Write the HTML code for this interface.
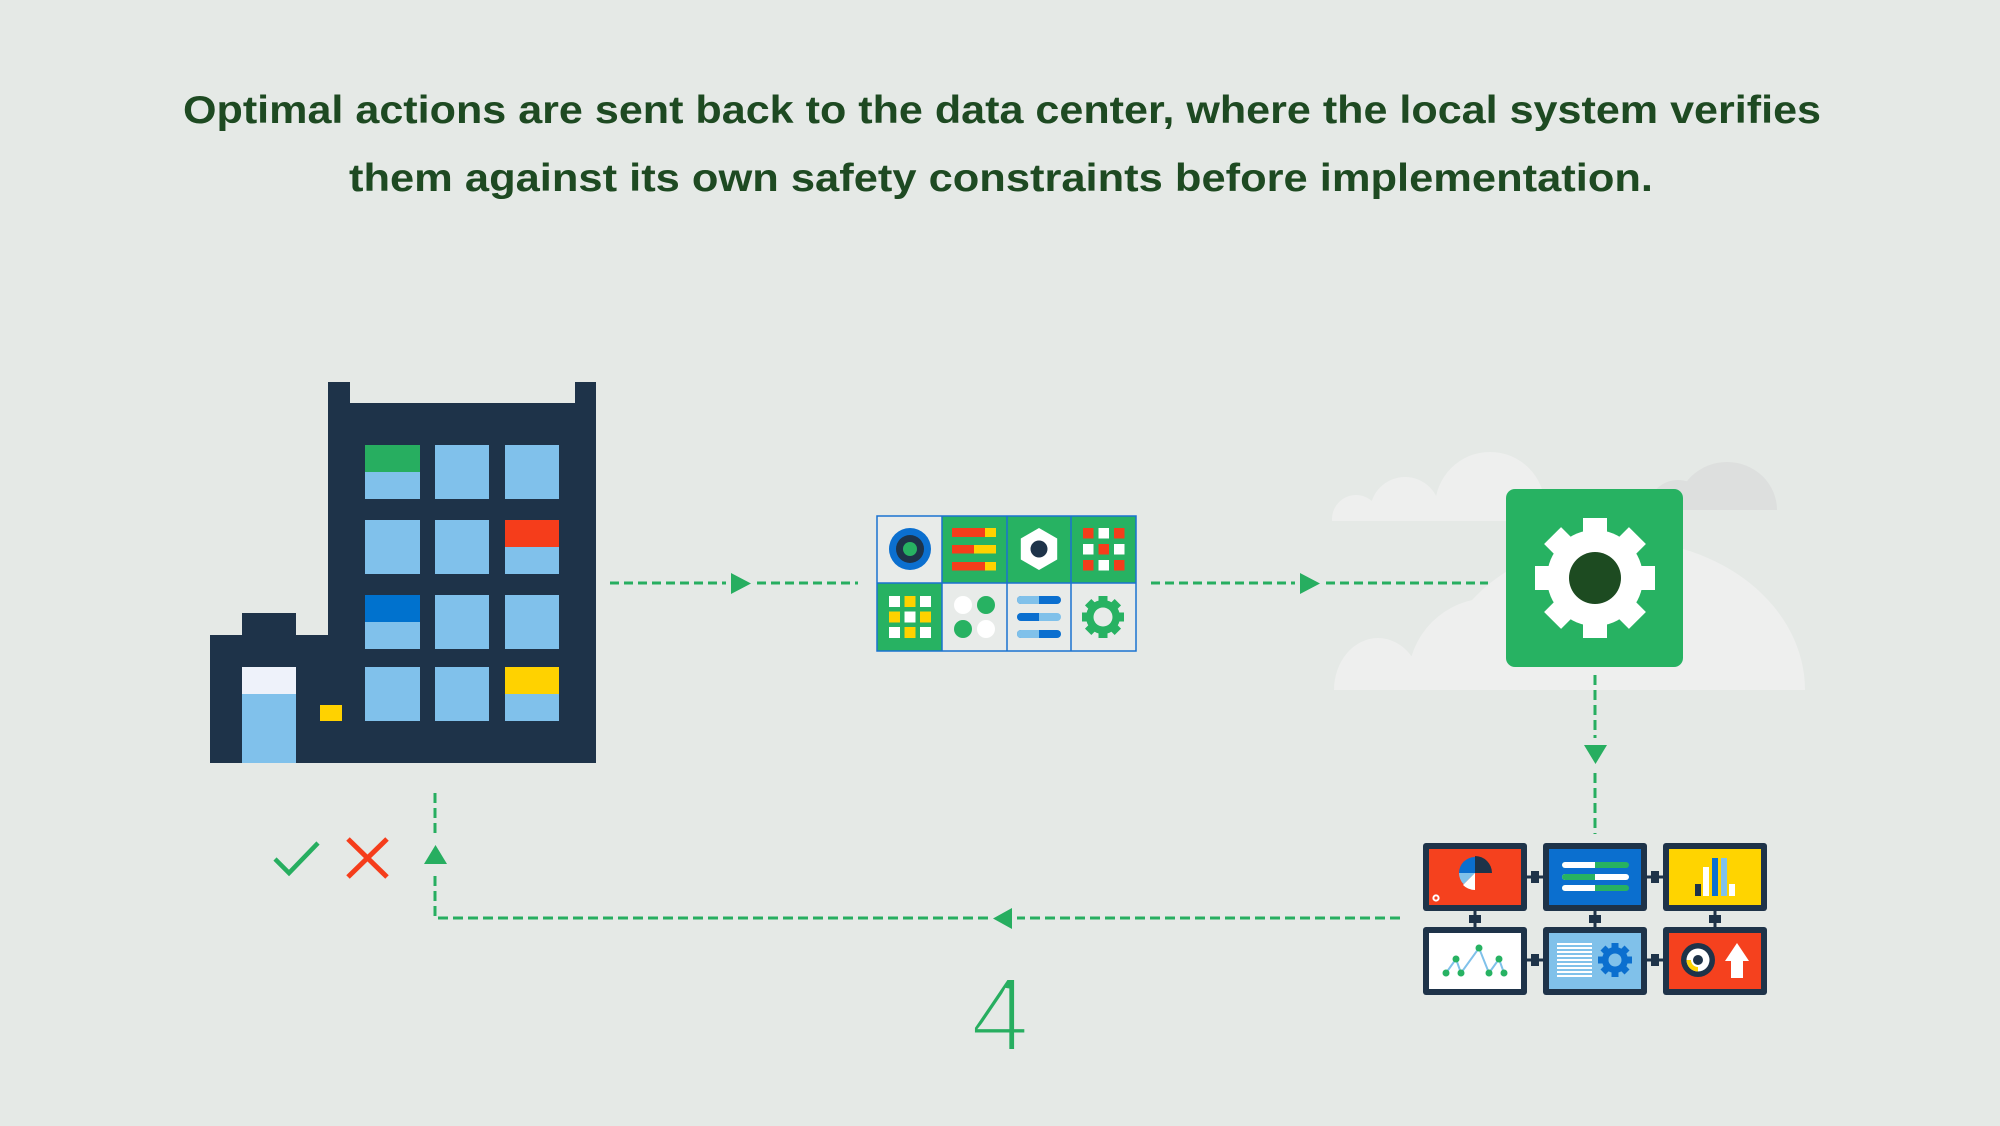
<!DOCTYPE html>
<html>
<head>
<meta charset="utf-8">
<style>
  html,body{margin:0;padding:0;background:#e5e9e6;}
  svg{display:block;}
</style>
</head>
<body>
<svg width="2000" height="1126" viewBox="0 0 2000 1126" xmlns="http://www.w3.org/2000/svg">
  <defs>
    <clipPath id="cLow"><rect x="0" y="0" width="2000" height="690"/></clipPath>
    <clipPath id="cUpL"><rect x="0" y="0" width="2000" height="521"/></clipPath>
    <clipPath id="cUpR"><rect x="0" y="0" width="2000" height="510"/></clipPath>
  </defs>
  <rect x="0" y="0" width="2000" height="1126" fill="#e5e9e6"/>

  <!-- Title -->
  <g font-family="'Liberation Sans', sans-serif" font-weight="bold" font-size="39" fill="#1e4a22">
    <text x="183" y="123" textLength="1638" lengthAdjust="spacingAndGlyphs">Optimal actions are sent back to the data center, where the local system verifies</text>
    <text x="349" y="191" textLength="1304" lengthAdjust="spacingAndGlyphs">them against its own safety constraints before implementation.</text>
  </g>

  <!-- Clouds -->
  <g fill="#eeefee" clip-path="url(#cLow)">
    <ellipse cx="1378" cy="690" rx="44" ry="52"/>
    <circle cx="1490" cy="680" r="82"/>
    <ellipse cx="1620" cy="690" rx="185" ry="150"/>
  </g>
  <g fill="#eeefee" clip-path="url(#cUpL)">
    <circle cx="1356" cy="519" r="24"/>
    <circle cx="1405" cy="512" r="35"/>
    <circle cx="1490" cy="507" r="55"/>
  </g>
  <g fill="#dddfde" clip-path="url(#cUpR)">
    <circle cx="1678" cy="510" r="30"/>
    <ellipse cx="1727" cy="510" rx="50" ry="48"/>
  </g>

  <!-- Building -->
  <g fill="#1e3349">
    <rect x="328" y="403" width="268" height="360"/>
    <rect x="328" y="382" width="22" height="22"/>
    <rect x="575" y="382" width="21" height="22"/>
    <rect x="210" y="635" width="119" height="128"/>
    <rect x="242" y="613" width="54" height="23"/>
  </g>
  <rect x="242" y="667" width="54" height="27" fill="#eef2fa"/>
  <rect x="242" y="694" width="54" height="69" fill="#80c1eb"/>
  <rect x="320" y="705" width="22" height="16" fill="#ffd200"/>
  <g fill="#80c1eb">
    <rect x="365" y="445" width="55" height="54"/>
    <rect x="435" y="445" width="54" height="54"/>
    <rect x="505" y="445" width="54" height="54"/>
    <rect x="365" y="520" width="55" height="54"/>
    <rect x="435" y="520" width="54" height="54"/>
    <rect x="505" y="520" width="54" height="54"/>
    <rect x="365" y="595" width="55" height="54"/>
    <rect x="435" y="595" width="54" height="54"/>
    <rect x="505" y="595" width="54" height="54"/>
    <rect x="365" y="667" width="55" height="54"/>
    <rect x="435" y="667" width="54" height="54"/>
    <rect x="505" y="667" width="54" height="54"/>
  </g>
  <rect x="365" y="445" width="55" height="27" fill="#27ae60"/>
  <rect x="505" y="520" width="54" height="27" fill="#f53d1b"/>
  <rect x="365" y="595" width="55" height="27" fill="#0072ce"/>
  <rect x="505" y="667" width="54" height="27" fill="#ffd200"/>

  <!-- Arrow 1 -->
  <g stroke="#27ae60" stroke-width="3" stroke-dasharray="9 5" fill="none">
    <line x1="610" y1="583" x2="726" y2="583"/>
    <line x1="757" y1="583" x2="858" y2="583"/>
  </g>
  <polygon points="731,573 751,583.5 731,594" fill="#27ae60"/>

  <!-- Middle panel -->
  <g>
    <rect x="877" y="516" width="259" height="135" fill="#e8ebe9"/>
    <rect x="942" y="516" width="194" height="67" fill="#27b262"/>
    <rect x="877" y="583" width="65" height="68" fill="#27b262"/>
    <g stroke="#1a73d0" stroke-width="1.5" fill="none">
      <rect x="877" y="516" width="259" height="135"/>
      <line x1="877" y1="583" x2="1136" y2="583"/>
      <line x1="942" y1="516" x2="942" y2="651"/>
      <line x1="1007" y1="516" x2="1007" y2="651"/>
      <line x1="1071" y1="516" x2="1071" y2="651"/>
    </g>
    <!-- cell 0,0 -->
    <circle cx="910" cy="549" r="21" fill="#0b6fcf"/>
    <circle cx="910" cy="549" r="14" fill="#1e3349"/>
    <circle cx="910" cy="549" r="7" fill="#27b262"/>
    <!-- cell 0,1 -->
    <rect x="952" y="528" width="33" height="9" fill="#f53d1b"/>
    <rect x="985" y="528" width="11" height="9" fill="#ffd200"/>
    <rect x="952" y="545" width="22" height="8.5" fill="#f53d1b"/>
    <rect x="974" y="545" width="22" height="8.5" fill="#ffd200"/>
    <rect x="952" y="562" width="33" height="8.5" fill="#f53d1b"/>
    <rect x="985" y="562" width="11" height="8.5" fill="#ffd200"/>
    <!-- cell 0,2 -->
    <polygon points="1039,528 1057.2,538.5 1057.2,559.5 1039,570 1020.8,559.5 1020.8,538.5" fill="#ffffff"/>
    <circle cx="1039" cy="549" r="8.5" fill="#1e3349"/>
    <!-- cell 0,3 -->
    <g>
      <rect x="1083" y="528" width="10.5" height="10.5" fill="#f53d1b"/>
      <rect x="1098.5" y="528" width="10.5" height="10.5" fill="#fff"/>
      <rect x="1114" y="528" width="10.5" height="10.5" fill="#f53d1b"/>
      <rect x="1083" y="544" width="10.5" height="10.5" fill="#fff"/>
      <rect x="1098.5" y="544" width="10.5" height="10.5" fill="#f53d1b"/>
      <rect x="1114" y="544" width="10.5" height="10.5" fill="#fff"/>
      <rect x="1083" y="560" width="10.5" height="10.5" fill="#f53d1b"/>
      <rect x="1098.5" y="560" width="10.5" height="10.5" fill="#fff"/>
      <rect x="1114" y="560" width="10.5" height="10.5" fill="#f53d1b"/>
    </g>
    <!-- cell 1,0 -->
    <g>
      <rect x="889" y="596" width="11" height="11" fill="#fff"/>
      <rect x="904.5" y="596" width="11" height="11" fill="#ffd200"/>
      <rect x="920" y="596" width="11" height="11" fill="#fff"/>
      <rect x="889" y="611.5" width="11" height="11" fill="#ffd200"/>
      <rect x="904.5" y="611.5" width="11" height="11" fill="#fff"/>
      <rect x="920" y="611.5" width="11" height="11" fill="#ffd200"/>
      <rect x="889" y="627" width="11" height="11" fill="#fff"/>
      <rect x="904.5" y="627" width="11" height="11" fill="#ffd200"/>
      <rect x="920" y="627" width="11" height="11" fill="#fff"/>
    </g>
    <!-- cell 1,1 -->
    <circle cx="963" cy="605" r="9" fill="#fff"/>
    <circle cx="986" cy="605" r="9" fill="#27b262"/>
    <circle cx="963" cy="629" r="9" fill="#27b262"/>
    <circle cx="986" cy="629" r="9" fill="#fff"/>
    <!-- cell 1,2 -->
    <g>
      <rect x="1017" y="596" width="44" height="8" rx="4" fill="#0b6fcf"/>
      <path d="M1021,596 H1039 V604 H1021 A4,4 0 0 1 1021,596 Z" fill="#80c1ea"/>
      <rect x="1017" y="613" width="44" height="8" rx="4" fill="#80c1ea"/>
      <path d="M1021,613 H1039 V621 H1021 A4,4 0 0 1 1021,613 Z" fill="#0b6fcf"/>
      <rect x="1017" y="630" width="44" height="8" rx="4" fill="#0b6fcf"/>
      <path d="M1021,630 H1039 V638 H1021 A4,4 0 0 1 1021,630 Z" fill="#80c1ea"/>
    </g>
    <!-- cell 1,3 gear -->
    <g transform="translate(1103,617)" fill="#27b262">
      <rect x="-4.5" y="-21" width="9" height="42"/>
      <rect x="-4.5" y="-21" width="9" height="42" transform="rotate(45)"/>
      <rect x="-4.5" y="-21" width="9" height="42" transform="rotate(90)"/>
      <rect x="-4.5" y="-21" width="9" height="42" transform="rotate(135)"/>
      <circle r="17"/>
      <circle r="9.5" fill="#e8ebe9"/>
    </g>
  </g>

  <!-- Arrow 2 -->
  <g stroke="#27ae60" stroke-width="3" stroke-dasharray="9 5" fill="none">
    <line x1="1151" y1="583" x2="1295" y2="583"/>
    <line x1="1326" y1="583" x2="1488" y2="583"/>
  </g>
  <polygon points="1300,573 1320,583.5 1300,594" fill="#27ae60"/>

  <!-- Gear box -->
  <rect x="1506" y="489" width="177" height="178" rx="9" fill="#27b262"/>
  <g transform="translate(1595,578)" fill="#ffffff">
    <rect x="-12" y="-60" width="24" height="120"/>
    <rect x="-12" y="-60" width="24" height="120" transform="rotate(45)"/>
    <rect x="-12" y="-60" width="24" height="120" transform="rotate(90)"/>
    <rect x="-12" y="-60" width="24" height="120" transform="rotate(135)"/>
    <circle r="48"/>
  </g>
  <circle cx="1595" cy="578" r="26" fill="#1d4b21"/>

  <!-- Arrow 3 (down) -->
  <g stroke="#27ae60" stroke-width="3" stroke-dasharray="10 5" fill="none">
    <line x1="1595" y1="675" x2="1595" y2="738"/>
    <line x1="1595" y1="773" x2="1595" y2="834"/>
  </g>
  <polygon points="1584,745 1607,745 1595.5,764" fill="#27ae60"/>

  <!-- Monitors -->
  <g fill="#1e3349">
    <!-- connectors -->
    <rect x="1525" y="875.5" width="20" height="3"/>
    <rect x="1531" y="871" width="8" height="12"/>
    <rect x="1645" y="875.5" width="20" height="3"/>
    <rect x="1651" y="871" width="8" height="12"/>
    <rect x="1525" y="958.5" width="20" height="3"/>
    <rect x="1531" y="954" width="8" height="12"/>
    <rect x="1645" y="958.5" width="20" height="3"/>
    <rect x="1651" y="954" width="8" height="12"/>
    <rect x="1473.5" y="909" width="3" height="20"/>
    <rect x="1469" y="915" width="12" height="8"/>
    <rect x="1593.5" y="909" width="3" height="20"/>
    <rect x="1589" y="915" width="12" height="8"/>
    <rect x="1713.5" y="909" width="3" height="20"/>
    <rect x="1709" y="915" width="12" height="8"/>
    <!-- frames -->
    <rect x="1423" y="843" width="104" height="68" rx="3"/>
    <rect x="1543" y="843" width="104" height="68" rx="3"/>
    <rect x="1663" y="843" width="104" height="68" rx="3"/>
    <rect x="1423" y="927" width="104" height="68" rx="3"/>
    <rect x="1543" y="927" width="104" height="68" rx="3"/>
    <rect x="1663" y="927" width="104" height="68" rx="3"/>
  </g>
  <rect x="1429" y="849" width="92" height="56" fill="#f5411e"/>
  <rect x="1549" y="849" width="92" height="56" fill="#0b6fcf"/>
  <rect x="1669" y="849" width="92" height="56" fill="#ffd400"/>
  <rect x="1429" y="933" width="92" height="56" fill="#ffffff"/>
  <rect x="1549" y="933" width="92" height="56" fill="#80c1ea"/>
  <rect x="1669" y="933" width="92" height="56" fill="#f5411e"/>

  <!-- screen 1 pie -->
  <path d="M1475,873 L1475,856 A17,17 0 0 1 1492,873 Z" fill="#1e3349"/>
  <path d="M1475,873 L1459,873 A16,16 0 0 1 1475,857 Z" fill="#0b6fcf"/>
  <path d="M1475,873 L1459,873 A16,16 0 0 0 1463.7,884.3 Z" fill="#80c1ea"/>
  <path d="M1475,873 L1463,885 A17,17 0 0 0 1475,890 Z" fill="#ffffff"/>
  <circle cx="1436" cy="898" r="2.6" fill="none" stroke="#fff" stroke-width="2"/>

  <!-- screen 2 bars -->
  <g>
    <rect x="1562" y="862" width="67" height="6" rx="3" fill="#27b262"/>
    <path d="M1565,862 H1595 V868 H1565 A3,3 0 0 1 1565,862 Z" fill="#fff"/>
    <rect x="1562" y="874" width="67" height="6" rx="3" fill="#fff"/>
    <path d="M1565,874 H1595 V880 H1565 A3,3 0 0 1 1565,874 Z" fill="#27b262"/>
    <rect x="1562" y="885" width="67" height="6" rx="3" fill="#27b262"/>
    <path d="M1565,885 H1595 V891 H1565 A3,3 0 0 1 1565,885 Z" fill="#fff"/>
  </g>

  <!-- screen 3 bar chart -->
  <rect x="1695" y="884" width="6" height="12" fill="#1e3349"/>
  <rect x="1703" y="867" width="6" height="29" fill="#fff"/>
  <rect x="1712" y="858" width="6" height="38" fill="#0b6fcf"/>
  <rect x="1721" y="858" width="6" height="38" fill="#80c1ea"/>
  <rect x="1729" y="884" width="6" height="12" fill="#fff"/>

  <!-- screen 4 line chart -->
  <polyline points="1446,973 1456,959 1461,973 1479,948 1489,973 1499,959 1504,973" fill="none" stroke="#80c1ea" stroke-width="2"/>
  <g fill="#27b262">
    <circle cx="1446" cy="973" r="3.5"/>
    <circle cx="1456" cy="959" r="3.5"/>
    <circle cx="1461" cy="973" r="3.5"/>
    <circle cx="1479" cy="948" r="3.5"/>
    <circle cx="1489" cy="973" r="3.5"/>
    <circle cx="1499" cy="959" r="3.5"/>
    <circle cx="1504" cy="973" r="3.5"/>
  </g>

  <!-- screen 5 -->
  <g fill="#ffffff">
    <rect x="1557" y="943" width="35" height="2"/>
    <rect x="1557" y="947" width="35" height="2"/>
    <rect x="1557" y="951" width="35" height="2"/>
    <rect x="1557" y="955" width="35" height="2"/>
    <rect x="1557" y="959" width="35" height="2"/>
    <rect x="1557" y="963" width="35" height="2"/>
    <rect x="1557" y="967" width="35" height="2"/>
    <rect x="1557" y="971" width="35" height="2"/>
    <rect x="1557" y="975" width="35" height="2"/>
  </g>
  <g transform="translate(1615,960)" fill="#0b6fcf">
    <rect x="-3.5" y="-17" width="7" height="34"/>
    <rect x="-3.5" y="-17" width="7" height="34" transform="rotate(45)"/>
    <rect x="-3.5" y="-17" width="7" height="34" transform="rotate(90)"/>
    <rect x="-3.5" y="-17" width="7" height="34" transform="rotate(135)"/>
    <circle r="13"/>
    <circle r="6.5" fill="#80c1ea"/>
  </g>

  <!-- screen 6 -->
  <circle cx="1698" cy="960" r="17" fill="#1e3349"/>
  <circle cx="1698" cy="960" r="11.5" fill="#ffffff"/>
  <path d="M1698,960 L1698,971.5 A11.5,11.5 0 0 1 1686.5,960 Z" fill="#ffd200"/>
  <circle cx="1698" cy="960" r="7" fill="#ffffff"/>
  <circle cx="1698" cy="960" r="5" fill="#1e3349"/>
  <polygon points="1725,961 1749,961 1737,943" fill="#ffffff"/>
  <rect x="1731" y="960" width="12" height="18" fill="#ffffff"/>

  <!-- Return path -->
  <g stroke="#27ae60" stroke-width="3" stroke-dasharray="10 5" fill="none">
    <line x1="1400" y1="918" x2="1017" y2="918"/>
    <polyline points="988,918 435,918 435,872"/>
    <line x1="435" y1="833" x2="435" y2="788"/>
  </g>
  <polygon points="993,918.5 1012,908 1012,929" fill="#27ae60"/>
  <polygon points="424,864 447,864 435.5,845" fill="#27ae60"/>

  <!-- check and cross -->
  <polyline points="275,859 289,873 318,843" fill="none" stroke="#27ae60" stroke-width="4.5"/>
  <g stroke="#f53d1b" stroke-width="5">
    <line x1="348" y1="839" x2="387" y2="877"/>
    <line x1="387" y1="839" x2="348" y2="877"/>
  </g>

  <!-- number -->
  <text x="1000" y="1051" text-anchor="middle" font-family="'Liberation Sans', sans-serif" font-size="106" fill="#27ae60" stroke="#e5e9e6" stroke-width="4">4</text>
</svg>
</body>
</html>
